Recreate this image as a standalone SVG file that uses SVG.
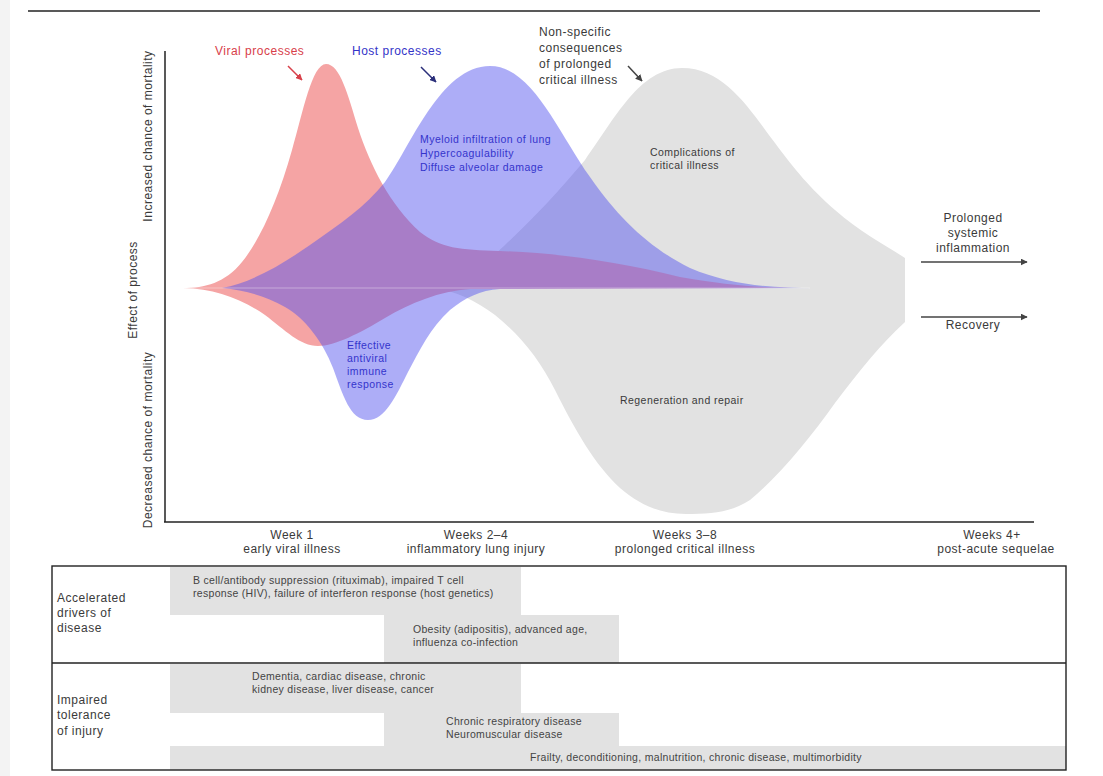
<svg xmlns="http://www.w3.org/2000/svg" width="1103" height="776" viewBox="0 0 1103 776">
<defs>
<style>
text{font-family:"Liberation Sans",Arial,sans-serif;fill:#3a3a3a}
.ax{font-size:12px;letter-spacing:0.5px}
.sm{font-size:10.5px;letter-spacing:0.45px}
.tb{font-size:10.5px;letter-spacing:0.3px;fill:#444}
.bl{fill:#3434cc}
.line{stroke:#222;stroke-width:1.5;fill:none}
.bar{fill:#e2e2e2}
</style>
<marker id="ahR" viewBox="0 0 10 10" refX="9" refY="5" markerWidth="7" markerHeight="7" orient="auto" markerUnits="userSpaceOnUse"><path d="M0,0 L10,5 L0,10 Z" fill="#d8404a"/></marker>
<marker id="ahB" viewBox="0 0 10 10" refX="9" refY="5" markerWidth="7" markerHeight="7" orient="auto" markerUnits="userSpaceOnUse"><path d="M0,0 L10,5 L0,10 Z" fill="#2b2f7a"/></marker>
<marker id="ahG" viewBox="0 0 10 10" refX="9" refY="5" markerWidth="7" markerHeight="7" orient="auto" markerUnits="userSpaceOnUse"><path d="M0,0 L10,5 L0,10 Z" fill="#444"/></marker>
</defs>
<rect x="0" y="0" width="1103" height="776" fill="#fff"/>
<rect x="0" y="0" width="10" height="776" fill="#f3f3f3"/>
<line class="line" x1="28" y1="11" x2="1040" y2="11"/>

<g id="curves">
<path id="gray" fill="#e2e2e2" d="M435,288 C460,284 480,268 505,245 C530,222 560,190 585,160 C615,118 640,68 682,68 C725,68 750,110 775,143 C795,170 810,188 835,210 C860,232 885,245 905,258 L905,322 C880,345 860,370 835,403 C810,438 780,475 750,500 C730,513 710,514 686,514 C660,514 640,505 620,488 C595,465 575,430 555,390 C540,360 520,335 495,315 C475,300 455,291 435,288 Z"/>
<path id="viral" fill="#f5a4a4" d="M183,288 C205,288 225,283 242,262 C260,240 278,200 292,150 C303,112 312,64 326,64 C340,64 348,95 358,128 C370,165 390,205 420,232 C440,248 460,250 500,251 C560,253 620,262 680,277 C730,286 770,288 800,288 L470,289 C440,291 410,303 385,318 C360,333 335,346 318,346 C300,346 285,330 265,315 C240,298 215,289 183,288 Z"/>
<path id="host" fill="#5454ee" fill-opacity="0.48" d="M222,288 C250,283 280,266 310,245 C340,224 365,207 385,182 C410,148 440,66 490,66 C532,66 558,132 590,177 C620,220 650,248 690,268 C730,285 770,288 815,288 L500,289 C480,290 465,298 450,310 C430,328 420,350 408,372 C396,396 385,420 368,420 C350,420 343,395 333,368 C323,342 305,318 285,307 C265,296 245,290 222,288 Z"/>
<line x1="185" y1="288" x2="810" y2="288" stroke="#fff" stroke-opacity="0.35" stroke-width="1"/>
</g>

<g id="axes">
<line class="line" x1="165" y1="51" x2="165" y2="522"/>
<line class="line" x1="164" y1="522" x2="1034" y2="522"/>
<text class="ax" transform="translate(152,136) rotate(-90)" text-anchor="middle">Increased chance of mortality</text>
<text class="ax" transform="translate(137,290) rotate(-90)" text-anchor="middle">Effect of process</text>
<text class="ax" transform="translate(152,440) rotate(-90)" text-anchor="middle">Decreased chance of mortality</text>
<text class="ax" x="292" y="539" text-anchor="middle">Week 1</text>
<text class="ax" x="292" y="553" text-anchor="middle">early viral illness</text>
<text class="ax" x="476" y="539" text-anchor="middle">Weeks 2–4</text>
<text class="ax" x="476" y="553" text-anchor="middle">inflammatory lung injury</text>
<text class="ax" x="685" y="539" text-anchor="middle">Weeks 3–8</text>
<text class="ax" x="685" y="553" text-anchor="middle">prolonged critical illness</text>
<text class="ax" x="992" y="539" text-anchor="middle">Weeks 4+</text>
<text class="ax" x="996" y="553" text-anchor="middle">post-acute sequelae</text>
</g>

<g id="viral-label">
<text class="ax" x="215" y="55" style="fill:#d8404a">Viral processes</text>
</g>
<g id="host-label">
<text class="ax" x="352" y="55" style="fill:#3434c8">Host processes</text>
</g>
<g id="nonspecific-label">
<text class="ax" x="539" y="36">Non-specific</text>
<text class="ax" x="539" y="52">consequences</text>
<text class="ax" x="539" y="68">of prolonged</text>
<text class="ax" x="539" y="84">critical illness</text>
</g>
<g id="host-text">
<text class="sm bl" x="420" y="143">Myeloid infiltration of lung</text>
<text class="sm bl" x="420" y="157">Hypercoagulability</text>
<text class="sm bl" x="420" y="171">Diffuse alveolar damage</text>
</g>
<g id="antiviral-text">
<text class="sm bl" x="347" y="349">Effective</text>
<text class="sm bl" x="347" y="362">antiviral</text>
<text class="sm bl" x="347" y="375">immune</text>
<text class="sm bl" x="347" y="388">response</text>
</g>
<g id="complications-text">
<text class="sm" x="650" y="156">Complications of</text>
<text class="sm" x="650" y="169">critical illness</text>
</g>
<g id="regeneration-text">
<text class="sm" x="620" y="404">Regeneration and repair</text>
</g>
<g id="outcome-inflammation">
<text class="ax" x="973" y="222" text-anchor="middle">Prolonged</text>
<text class="ax" x="973" y="237" text-anchor="middle">systemic</text>
<text class="ax" x="973" y="252" text-anchor="middle">inflammation</text>
</g>
<g id="outcome-recovery">
<text class="ax" x="973" y="329" text-anchor="middle">Recovery</text>
</g>

<g id="connectors">
<line x1="288" y1="66" x2="302" y2="80" stroke="#d8404a" stroke-width="1.5" marker-end="url(#ahR)"/>
<line x1="421" y1="67" x2="436" y2="82" stroke="#2b2f7a" stroke-width="1.5" marker-end="url(#ahB)"/>
<line x1="628" y1="66" x2="642" y2="81" stroke="#444" stroke-width="1.5" marker-end="url(#ahG)"/>
<line x1="921" y1="262" x2="1027" y2="262" stroke="#444" stroke-width="1.3" marker-end="url(#ahG)"/>
<line x1="921" y1="317" x2="1027" y2="317" stroke="#444" stroke-width="1.3" marker-end="url(#ahG)"/>
</g>

<g id="table">
<rect class="bar" x="170" y="567" width="351" height="48"/>
<rect class="bar" x="384" y="615" width="235" height="48"/>
<rect class="bar" x="170" y="664" width="351" height="49"/>
<rect class="bar" x="384" y="713" width="235" height="33"/>
<rect class="bar" x="170" y="746" width="896" height="24"/>
<rect x="52" y="566" width="1014" height="204" fill="none" stroke="#222" stroke-width="1.4"/>
<line x1="52" y1="663" x2="1066" y2="663" stroke="#222" stroke-width="1.4"/>
</g>
<g id="row1-label">
<text class="ax" x="57" y="602">Accelerated</text>
<text class="ax" x="57" y="617">drivers of</text>
<text class="ax" x="57" y="632">disease</text>
</g>
<g id="row2-label">
<text class="ax" x="57" y="704">Impaired</text>
<text class="ax" x="57" y="719">tolerance</text>
<text class="ax" x="57" y="735">of injury</text>
</g>
<g id="bar-bcell">
<text class="tb" x="193" y="584">B cell/antibody suppression (rituximab), impaired T cell</text>
<text class="tb" x="193" y="597">response (HIV), failure of interferon response (host genetics)</text>
</g>
<g id="bar-obesity">
<text class="tb" x="413" y="633">Obesity (adipositis), advanced age,</text>
<text class="tb" x="413" y="646">influenza co-infection</text>
</g>
<g id="bar-dementia">
<text class="tb" x="252" y="680">Dementia, cardiac disease, chronic</text>
<text class="tb" x="252" y="693">kidney disease, liver disease, cancer</text>
</g>
<g id="bar-respiratory">
<text class="tb" x="446" y="725">Chronic respiratory disease</text>
<text class="tb" x="446" y="738">Neuromuscular disease</text>
</g>
<g id="bar-frailty">
<text class="tb" x="530" y="761">Frailty, deconditioning, malnutrition, chronic disease, multimorbidity</text>
</g>
</svg>
